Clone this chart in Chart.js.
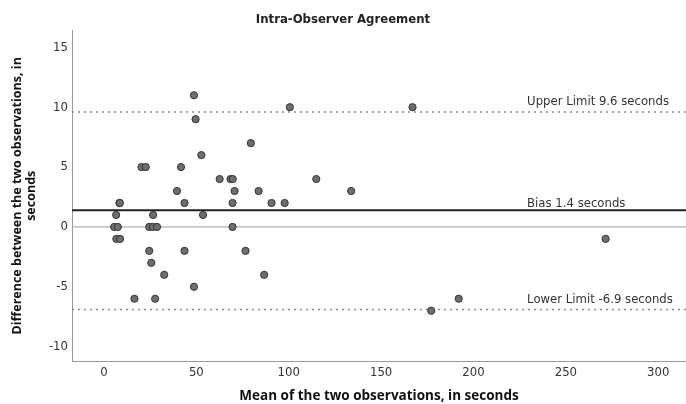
<!DOCTYPE html>
<html>
<head>
<meta charset="utf-8">
<script src="https://cdn.jsdelivr.net/npm/chart.js@4"></script>
<style>
  body { margin: 0; background: #fff; }
  #wrap { width: 686px; height: 404px; }
</style>
</head>
<body>
<div id="wrap"><canvas id="Chart1" width="686" height="404"></canvas></div>
<script>
// mean of the two observations (x) and their difference (y)
const meanObs = [48.7, 100.6, 167, 49.6, 79.5, 52.7, 20.3, 22.6, 41.7, 62.6,
  68.5, 69.7, 114.9, 39.5, 70.7, 83.7, 133.8, 8.4, 8.6, 43.6,
  69.6, 90.7, 97.8, 6.6, 26.6, 53.6, 5.5, 7.5, 24.5, 26.4,
  28.7, 69.6, 6.7, 8.7, 271.5, 24.5, 43.6, 76.6, 25.6, 32.6,
  86.7, 48.7, 16.5, 27.7, 192, 177.1];
const diffObs = [11, 10, 10, 9, 7, 6, 5, 5, 5, 4,
  4, 4, 4, 3, 3, 3, 3, 2, 2, 2,
  2, 2, 2, 1, 1, 1, 0, 0, 0, 0,
  0, 0, -1, -1, -1, -2, -2, -2, -3, -4,
  -4, -5, -6, -6, -6, -7];

// reference lines
const lineNames = ['Upper Limit 9.6 seconds', 'Bias 1.4 seconds', 'Lower Limit -6.9 seconds', ''];
const lineValues = [9.6, 1.4, -6.9, 0];

const xTicks = [0, 50, 100, 150, 200, 250, 300];
const yTicks = [-10, -5, 0, 5, 10, 15];
const xRange = [-17.3, 315];
const yRange = [-11.2, 16.4];

const narrow = "'Liberation Sans Narrow', 'DejaVu Sans Condensed', sans-serif";
const wide = "'Open Sans', 'DejaVu Sans', sans-serif";

const lineStyles = [
  { borderColor: '#8a8a8a', borderWidth: 1.5, borderDash: [2, 4] },
  { borderColor: '#222222', borderWidth: 2, borderDash: [] },
  { borderColor: '#8a8a8a', borderWidth: 1.5, borderDash: [2, 4] },
  { borderColor: '#b0b0b0', borderWidth: 1.2, borderDash: [] }
];

const refSets = lineValues.map((v, i) => ({
  type: 'line',
  label: lineNames[i],
  data: [{ x: xRange[0], y: v }, { x: xRange[1], y: v }],
  pointRadius: 0,
  fill: false,
  order: 2,
  ...lineStyles[i]
}));

const points = meanObs.map((m, i) => ({ x: m, y: diffObs[i] }));

// writes the line captions just above each reference line
const lineLabels = {
  id: 'lineLabels',
  afterDatasetsDraw(chart) {
    const ctx = chart.ctx;
    const xs = chart.scales.x, ys = chart.scales.y;
    ctx.save();
    ctx.font = "13px " + narrow;
    ctx.fillStyle = '#333';
    ctx.textAlign = 'left';
    ctx.textBaseline = 'middle';
    lineNames.forEach((name, i) => {
      if (!name) return;
      const off = i === 1 ? 7 : 10;
      ctx.fillText(name, xs.getPixelForValue(229), ys.getPixelForValue(lineValues[i]) - off);
    });
    ctx.restore();
  }
};

const config = {
  type: 'scatter',
  data: {
    datasets: [{
      label: 'Observations',
      data: points,
      pointRadius: 3.6,
      pointBackgroundColor: '#6e6e6e',
      pointBorderColor: '#333333',
      pointBorderWidth: 1,
      order: 0
    }, ...refSets]
  },
  options: {
    responsive: false,
    animation: false,
    layout: { autoPadding: false, padding: 0 },
    plugins: {
      legend: { display: false },
      tooltip: { enabled: false },
      title: {
        display: true,
        text: 'Intra-Observer Agreement',
        color: '#222',
        font: { family: narrow, size: 13, weight: 'bold' },
        padding: { top: 12, bottom: 3 }
      }
    },
    scales: {
      x: {
        type: 'linear',
        min: xRange[0],
        max: xRange[1],
        afterBuildTicks: s => { s.ticks = xTicks.map(v => ({ value: v })); },
        afterFit: s => { s.height = 43; s.paddingLeft = 0; s.paddingRight = 0; },
        grid: { display: false, drawTicks: false },
        border: { display: true, color: '#999', width: 1 },
        ticks: { color: '#333', font: { family: narrow, size: 13 }, padding: 4 },
        title: {
          display: true,
          text: 'Mean of the two observations, in seconds',
          color: '#111',
          font: { family: wide, size: 13.5, weight: 'bold' },
          padding: { top: 8, bottom: 0 }
        }
      },
      y: {
        type: 'linear',
        min: yRange[0],
        max: yRange[1],
        afterBuildTicks: s => { s.ticks = yTicks.map(v => ({ value: v })); },
        afterFit: s => { s.width = 72; s.paddingTop = 0; s.paddingBottom = 0; },
        grid: { display: false, drawTicks: false },
        border: { display: true, color: '#999', width: 1 },
        ticks: { color: '#333', font: { family: narrow, size: 13 }, padding: 4 },
        title: {
          display: true,
          text: ['Difference between the two observations, in', 'seconds'],
          color: '#111',
          font: { family: wide, size: 12.5, weight: 'bold', lineHeight: 1.1 },
          padding: { top: 11, bottom: 0 }
        }
      }
    }
  },
  plugins: [lineLabels]
};

const myChart = new Chart(document.getElementById('Chart1'), config);
</script>
</body>
</html>
